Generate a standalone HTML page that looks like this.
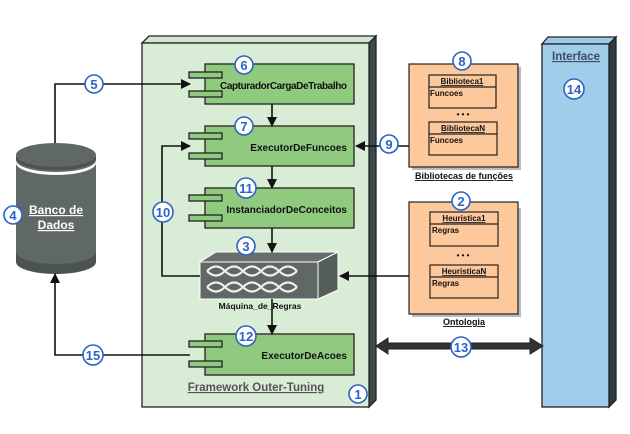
<!DOCTYPE html>
<html><head><meta charset="utf-8"><style>
html,body{margin:0;padding:0;background:#fff;}
svg{display:block;font-family:"Liberation Sans",sans-serif;}
.n{fill:#fff;stroke:#2b63c6;stroke-width:1.6}
.nt{fill:#2b63c6;font-weight:bold;font-size:13px;text-anchor:middle}
.lb{font-weight:bold;font-size:10px;fill:#111}
</style></head><body>
<svg width="630" height="434" viewBox="0 0 630 434">
<defs>
<marker id="a" markerWidth="10" markerHeight="10" refX="9" refY="5" orient="auto" markerUnits="userSpaceOnUse"><path d="M0,0 L10,5 L0,10 z" fill="#111"/></marker>
<g id="chain"><path d="M0,5 C6,-1 12,-1 18,5 C24,11 30,11 36,5 C42,-1 48,-1 54,5 C60,11 66,11 72,5 C78,-1 84,-1 90,5 M0,5 C6,11 12,11 18,5 C24,-1 30,-1 36,5 C42,11 48,11 54,5 C60,-1 66,-1 72,5 C78,11 84,11 90,5" fill="none" stroke="#eee" stroke-width="2.2"/></g>
</defs>
<polygon points="142,43 149,36 376,36 369,43" fill="#d3e8d1" stroke="#222" stroke-width="1.3"/>
<polygon points="369,43 376,36 376,400 369,407" fill="#3d4a4a" stroke="#222" stroke-width="1.3"/>
<rect x="142" y="43" width="227" height="364" fill="#d9ecd6" stroke="#222" stroke-width="1.3"/>
<polygon points="542,44 548,37 616,37 609,44" fill="#9ccbe9" stroke="#222" stroke-width="1.3"/>
<polygon points="609,44 616,37 616,400 609,407" fill="#2c3e4a" stroke="#222" stroke-width="1.3"/>
<rect x="542" y="44" width="67" height="363" fill="#9fcdea" stroke="#222" stroke-width="1.3"/>
<text x="576" y="60" text-anchor="middle" font-weight="bold" font-size="11.5" fill="#3b4e62" text-decoration="underline">Interface</text>
<g fill="#8fca7e" stroke="#222" stroke-width="1.3">
<rect x="205" y="64" width="149" height="40"/><rect x="189" y="72" width="33" height="6"/><rect x="189" y="91" width="33" height="6"/>
<rect x="205" y="126" width="149" height="40"/><rect x="189" y="133" width="33" height="6"/><rect x="189" y="153" width="33" height="6"/>
<rect x="205" y="188" width="149" height="40"/><rect x="189" y="195" width="33" height="6"/><rect x="189" y="215" width="33" height="6"/>
<rect x="205" y="334" width="149" height="41"/><rect x="189" y="341" width="33" height="6"/><rect x="189" y="361" width="33" height="6"/>
</g>
<text class="lb" x="347" y="89" text-anchor="end" textLength="127">CapturadorCargaDeTrabalho</text>
<text class="lb" x="347" y="151" text-anchor="end">ExecutorDeFuncoes</text>
<text class="lb" x="347" y="213" text-anchor="end">InstanciadorDeConceitos</text>
<text class="lb" x="347" y="359" text-anchor="end">ExecutorDeAcoes</text>
<text x="256" y="391" text-anchor="middle" font-weight="bold" font-size="11.5" fill="#555" text-decoration="underline">Framework Outer-Tuning</text>
<polygon points="200,262 216,252 338,252 318,262" fill="#666e6e" stroke="#fff" stroke-width="1"/>
<polygon points="318,262 338,252 338,290 318,299" fill="#555d5d" stroke="#fff" stroke-width="1"/>
<rect x="200" y="262" width="118" height="37" fill="#5f6767" stroke="#fff" stroke-width="1"/>
<use href="#chain" x="207" y="266"/><use href="#chain" x="207" y="282"/>
<text x="260" y="309" text-anchor="middle" font-size="8.5" font-weight="bold" fill="#111">Máquina_de_Regras</text>
<path d="M16,157 L16,258 A40,12 0 0 0 96,258 L96,157 Z" fill="#5f6767"/>
<path d="M16,252 A40,12 0 0 0 96,252 L96,262 A40,12 0 0 1 16,262 Z" fill="#4a5252"/>
<path d="M16,160 A40,12 0 0 0 96,160 L96,163 A40,12 0 0 1 16,163 Z" fill="#fff"/>
<ellipse cx="56" cy="155" rx="40" ry="12" fill="#5f6767"/>
<path d="M16,155 A40,12 0 0 0 96,155 L96,158 A40,12 0 0 1 16,158 Z" fill="#4a5252"/>
<text x="56" y="214" text-anchor="middle" font-weight="bold" font-size="12" fill="#fff" text-decoration="underline">Banco de</text>
<text x="56" y="229" text-anchor="middle" font-weight="bold" font-size="12" fill="#fff" text-decoration="underline">Dados</text>
<rect x="412" y="67" width="109" height="103" fill="#bbb"/>
<rect x="409" y="64" width="109" height="103" fill="#fdc89b" stroke="#222" stroke-width="1.2"/>
<rect x="412" y="208" width="109" height="109" fill="#bbb"/>
<rect x="409" y="202" width="109" height="112" fill="#fdc89b" stroke="#222" stroke-width="1.2"/>
<g fill="#fdc89b" stroke="#222" stroke-width="1.2">
<rect x="429" y="75" width="67" height="33"/><line x1="429" y1="87" x2="496" y2="87"/>
<rect x="429" y="122" width="68" height="33"/><line x1="429" y1="134" x2="497" y2="134"/>
<rect x="430" y="212" width="68" height="34"/><line x1="430" y1="224" x2="498" y2="224"/>
<rect x="430" y="265" width="68" height="33"/><line x1="430" y1="277" x2="498" y2="277"/>
</g>
<g font-size="8" font-weight="bold" fill="#111">
<text x="462" y="84" text-anchor="middle" text-decoration="underline">Biblioteca1</text>
<text x="430" y="96">Funcoes</text>
<text x="463" y="131" text-anchor="middle" text-decoration="underline">BibliotecaN</text>
<text x="430" y="143">Funcoes</text>
<text x="464" y="221" text-anchor="middle" text-decoration="underline">Heuristica1</text>
<text x="432" y="233">Regras</text>
<text x="464" y="274" text-anchor="middle" text-decoration="underline">HeuristicaN</text>
<text x="432" y="286">Regras</text>
<text x="463" y="117" text-anchor="middle">• • •</text>
<text x="463" y="258" text-anchor="middle">• • •</text>
</g>
<text x="464" y="179" text-anchor="middle" font-size="9" font-weight="bold" fill="#111" text-decoration="underline">Bibliotecas de funções</text>
<text x="464" y="325" text-anchor="middle" font-size="9" font-weight="bold" fill="#111" text-decoration="underline">Ontologia</text>
<g stroke="#111" stroke-width="1.6" fill="none">
<polyline points="55,143 55,84 190,84" marker-end="url(#a)"/>
<polyline points="190,355 55,355 55,274" marker-end="url(#a)"/>
<line x1="272" y1="104" x2="272" y2="126" marker-end="url(#a)"/>
<line x1="272" y1="166" x2="272" y2="188" marker-end="url(#a)"/>
<line x1="272" y1="228" x2="272" y2="252" marker-end="url(#a)"/>
<line x1="272" y1="299" x2="272" y2="334" marker-end="url(#a)"/>
<polyline points="200,276 162,276 162,146 190,146" marker-end="url(#a)"/>
<line x1="409" y1="146" x2="356" y2="146" marker-end="url(#a)"/>
<polyline points="409,276 340,276" marker-end="url(#a)"/>
</g>
<polygon points="376,346 388,338 388,343 530,343 530,338 543,346 530,354 530,349 388,349 388,354" fill="#333" stroke="#222" stroke-width="1"/>
<g>
<circle class="n" cx="358" cy="394" r="9"/><text class="nt" x="358" y="399">1</text>
<circle class="n" cx="461" cy="201" r="9"/><text class="nt" x="461" y="206">2</text>
<circle class="n" cx="246" cy="246" r="9"/><text class="nt" x="246" y="251">3</text>
<circle class="n" cx="13" cy="215" r="9"/><text class="nt" x="13" y="220">4</text>
<circle class="n" cx="94" cy="84" r="9"/><text class="nt" x="94" y="89">5</text>
<circle class="n" cx="244" cy="65" r="9"/><text class="nt" x="244" y="70">6</text>
<circle class="n" cx="244" cy="126" r="9"/><text class="nt" x="244" y="131">7</text>
<circle class="n" cx="462" cy="61" r="9"/><text class="nt" x="462" y="66">8</text>
<circle class="n" cx="389" cy="144" r="9"/><text class="nt" x="389" y="149">9</text>
<circle class="n" cx="163" cy="212" r="10"/><text class="nt" x="163" y="217">10</text>
<circle class="n" cx="246" cy="188" r="10"/><text class="nt" x="246" y="193">11</text>
<circle class="n" cx="246" cy="336" r="10"/><text class="nt" x="246" y="341">12</text>
<circle class="n" cx="461" cy="347" r="10"/><text class="nt" x="461" y="352">13</text>
<circle class="n" cx="574" cy="89" r="10"/><text class="nt" x="574" y="94">14</text>
<circle class="n" cx="93" cy="355" r="10"/><text class="nt" x="93" y="360">15</text>
</g>
</svg>
</body></html>
